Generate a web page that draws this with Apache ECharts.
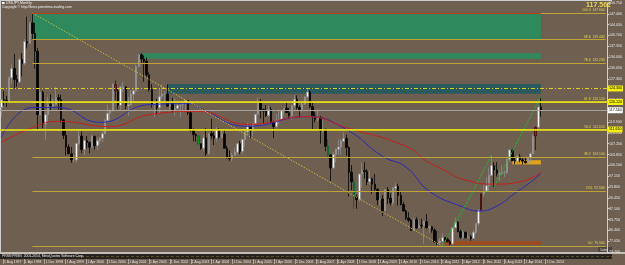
<!DOCTYPE html>
<html>
<head>
<meta charset="utf-8">
<script src="https://cdn.jsdelivr.net/npm/echarts@6/dist/echarts.min.js"></script>
<style>
  html, body { margin: 0; padding: 0; background: #6f5f50; }
  #chart { width: 625px; height: 265px; }
</style>
</head>
<body>
<div id="chart"></div>
<script>
// USDJPY monthly, Aug 1997 .. Dec 2014
const opens = [
  118.4, 120.8, 120.7, 120.4, 127.6,
  130.5, 127.1, 126.3, 133.3, 132.0, 138.8, 138.3, 144.6, 141.3, 135.8, 116.2, 123.1,
  113.3, 116.2, 119.3, 118.9, 119.4, 121.5, 120.8, 114.6, 109.8, 106.2, 104.1, 102.2,
  102.2, 107.3, 109.6, 105.4, 108.2, 107.6, 106.1, 109.5, 106.6, 108.1, 108.9, 110.3,
  114.4, 116.6, 117.4, 125.5, 123.6, 119.1, 124.7, 124.8, 118.9, 119.3, 122.5, 123.6,
  131.0, 134.7, 133.4, 132.7, 128.5, 124.0, 119.5, 119.8, 118.3, 121.8, 122.6, 122.6,
  118.8, 119.9, 117.7, 118.1, 119.1, 119.2, 119.8, 120.6, 116.8, 111.4, 110.0, 109.6,
  107.2, 105.8, 109.0, 104.2, 110.4, 109.6, 108.9, 111.6, 109.2, 110.2, 105.8, 103.1,
  102.6, 103.6, 104.6, 107.2, 104.8, 108.5, 110.9, 112.5, 111.2, 113.4, 116.3, 119.7,
  117.8, 117.3, 115.9, 117.8, 113.8, 112.5, 114.5, 114.6, 117.4, 118.2, 116.8, 115.9,
  119.0, 121.0, 118.4, 117.8, 119.5, 121.7, 123.2, 118.7, 115.8, 114.8, 115.3, 111.2,
  111.7, 106.4, 103.8, 99.7, 103.9, 105.5, 106.2, 108.0, 108.8, 106.0, 98.4, 95.4,
  90.7, 89.9, 97.8, 98.9, 98.6, 95.4, 96.4, 94.7, 93.1, 89.8, 90.1, 86.4,
  93.0, 90.3, 88.9, 93.4, 94.0, 91.2, 88.4, 86.4, 84.2, 83.5, 80.4, 83.7,
  81.1, 82.0, 81.8, 83.1, 81.2, 81.5, 80.5, 76.8, 76.6, 77.0, 78.2, 77.6,
  76.9, 76.2, 81.2, 82.9, 80.0, 78.3, 79.8, 78.1, 78.4, 77.9, 79.8, 82.5,
  86.7, 91.7, 92.6, 94.2, 97.4, 100.5, 99.1, 97.9, 98.1, 98.3, 98.3, 102.4,
  105.3, 102.0, 101.8, 103.2, 102.2, 101.8, 101.3, 102.8, 104.1, 109.6, 112.3, 118.6
]
const closes = [
  120.8, 120.7, 120.4, 127.6, 130.5,
  127.1, 126.3, 133.3, 132.0, 138.8, 138.3, 144.6, 141.3, 135.8, 116.2, 123.1, 113.3,
  116.2, 119.3, 118.9, 119.4, 121.5, 120.8, 114.6, 109.8, 106.2, 104.1, 102.2, 102.2,
  107.3, 109.6, 105.4, 108.2, 107.6, 106.1, 109.5, 106.6, 108.1, 108.9, 110.3, 114.4,
  116.6, 117.4, 125.5, 123.6, 119.1, 124.7, 124.8, 118.9, 119.3, 122.5, 123.6, 131.0,
  134.7, 133.4, 132.7, 128.5, 124.0, 119.5, 119.8, 118.3, 121.8, 122.6, 122.6, 118.8,
  119.9, 117.7, 118.1, 119.1, 119.2, 119.8, 120.6, 116.8, 111.4, 110.0, 109.6, 107.2,
  105.8, 109.0, 104.2, 110.4, 109.6, 108.9, 111.6, 109.2, 110.2, 105.8, 103.1, 102.6,
  103.6, 104.6, 107.2, 104.8, 108.5, 110.9, 112.5, 111.2, 113.4, 116.3, 119.7, 117.8,
  117.3, 115.9, 117.8, 113.8, 112.5, 114.5, 114.6, 117.4, 118.2, 116.8, 115.9, 119.0,
  121.0, 118.4, 117.8, 119.5, 121.7, 123.2, 118.7, 115.8, 114.8, 115.3, 111.2, 111.7,
  106.4, 103.8, 99.7, 103.9, 105.5, 106.2, 108.0, 108.8, 106.0, 98.4, 95.4, 90.7,
  89.9, 97.8, 98.9, 98.6, 95.4, 96.4, 94.7, 93.1, 89.8, 90.1, 86.4, 93.0,
  90.3, 88.9, 93.4, 94.0, 91.2, 88.4, 86.4, 84.2, 83.5, 80.4, 83.7, 81.1,
  82.0, 81.8, 83.1, 81.2, 81.5, 80.5, 76.8, 76.6, 77.0, 78.2, 77.6, 76.9,
  76.2, 81.2, 82.9, 80.0, 78.3, 79.8, 78.1, 78.4, 77.9, 79.8, 82.5, 86.7,
  91.7, 92.6, 94.2, 97.4, 100.5, 99.1, 97.9, 98.1, 98.3, 98.3, 102.4, 105.3,
  102.0, 101.8, 103.2, 102.2, 101.8, 101.3, 102.8, 104.1, 109.6, 112.3, 118.6, 117.562
]
const lows = [
  115.6, 119.0, 118.6, 120.0, 125.8,
  124.4, 124.8, 125.9, 128.0, 131.5, 136.7, 138.1, 139.5, 130.4, 111.6, 115.9, 112.0,
  108.3, 114.0, 117.5, 118.0, 119.0, 117.3, 113.8, 108.6, 103.6, 104.0, 101.3, 101.5,
  101.3, 106.8, 104.3, 103.6, 105.7, 104.3, 105.9, 105.4, 105.3, 107.0, 107.7, 110.1,
  113.9, 114.2, 117.2, 120.8, 117.9, 117.7, 123.2, 117.9, 115.8, 119.1, 119.9, 123.1,
  130.9, 131.9, 126.4, 127.8, 123.3, 118.4, 115.5, 116.3, 116.7, 121.0, 119.9, 118.7,
  117.2, 116.9, 115.9, 117.9, 115.5, 116.9, 117.6, 116.1, 110.9, 107.9, 107.8, 106.8,
  105.3, 104.9, 103.4, 103.8, 108.6, 106.8, 107.8, 108.8, 108.8, 105.8, 102.6, 101.9,
  101.7, 103.5, 103.6, 104.0, 104.1, 106.2, 110.0, 108.9, 109.5, 113.2, 116.3, 115.0,
  113.4, 115.5, 115.4, 113.4, 108.9, 112.0, 113.1, 114.2, 115.9, 116.7, 115.0, 114.7,
  118.4, 117.8, 115.2, 116.9, 119.2, 120.8, 118.2, 111.6, 113.8, 114.0, 107.2, 110.6,
  104.9, 103.1, 95.7, 99.5, 101.4, 103.8, 103.8, 107.8, 103.5, 90.9, 92.8, 87.1,
  87.1, 89.3, 93.5, 96.4, 94.4, 94.5, 91.7, 92.6, 88.2, 88.0, 84.8, 86.4,
  88.5, 88.1, 88.1, 92.6, 88.1, 88.1, 86.2, 83.6, 82.9, 80.2, 80.3, 80.9,
  81.0, 81.0, 76.3, 81.0, 79.6, 79.7, 76.7, 75.9, 75.9, 75.56, 76.6, 76.6,
  75.8, 76.1, 80.9, 79.8, 77.7, 77.7, 77.9, 78.0, 77.2, 77.9, 79.1, 81.7,
  86.5, 90.9, 92.6, 92.5, 97.3, 93.8, 97.0, 95.8, 97.5, 96.9, 97.6, 101.6,
  101.8, 100.8, 100.8, 101.4, 100.8, 101.1, 101.0, 101.6, 104.0, 105.2, 111.9, 115.57
]
const highs = [
  121.0, 123.5, 122.0, 128.0, 131.7,
  135.0, 128.5, 133.9, 135.3, 139.6, 146.5, 145.0, 147.66, 144.6, 136.9, 124.3, 123.6,
  117.0, 121.7, 122.5, 121.3, 124.8, 122.5, 122.4, 115.0, 111.7, 107.0, 106.2, 103.8,
  107.4, 111.7, 111.0, 108.5, 109.6, 108.0, 109.9, 109.6, 109.0, 109.1, 111.3, 114.9,
  119.3, 118.0, 126.0, 126.8, 124.4, 125.2, 126.4, 125.0, 121.7, 123.8, 124.6, 131.7,
  135.0, 135.2, 134.5, 133.9, 129.3, 125.6, 120.1, 121.0, 124.4, 125.6, 123.5, 125.5,
  120.3, 121.4, 121.3, 120.5, 119.5, 120.0, 120.6, 120.6, 117.2, 111.9, 110.5, 109.8,
  107.3, 110.0, 112.1, 110.5, 114.9, 110.9, 112.3, 112.0, 111.4, 111.5, 106.6, 105.1,
  104.4, 106.0, 107.5, 108.1, 108.6, 111.2, 113.7, 112.6, 113.6, 116.4, 121.4, 121.0,
  118.0, 119.1, 119.0, 118.6, 114.3, 116.4, 117.8, 117.4, 118.3, 119.9, 118.3, 119.4,
  122.2, 122.2, 119.0, 120.2, 122.0, 124.1, 123.7, 119.8, 117.0, 117.9, 115.8, 114.7,
  111.8, 108.6, 104.0, 104.7, 105.7, 108.6, 108.6, 110.7, 110.0, 106.4, 100.6, 96.6,
  91.4, 98.1, 101.4, 101.5, 99.3, 98.9, 96.7, 97.8, 93.4, 92.3, 91.3, 93.1,
  93.8, 91.9, 93.8, 95.0, 94.8, 92.3, 89.2, 86.8, 86.0, 84.0, 84.4, 84.5,
  83.7, 84.0, 83.3, 85.5, 82.0, 81.7, 81.0, 80.2, 77.9, 79.5, 78.3, 78.3,
  77.4, 81.3, 84.2, 83.3, 80.7, 80.6, 80.0, 79.7, 78.9, 80.4, 82.8, 86.8,
  91.8, 94.5, 96.7, 99.9, 103.7, 101.5, 101.5, 99.1, 100.6, 99.0, 102.6, 105.4,
  105.4, 102.8, 103.8, 104.1, 102.8, 102.8, 103.1, 104.5, 110.1, 112.5, 118.98, 121.85
]

// candles painted by an indicator
const greenBars = [76, 126, 136]
const redBars = [44, 185, 206]

// moving averages, [month index, price]
const maBlue = [[0, 109.2], [12, 118.4], [22, 118.4], [38, 113.8], [57, 119.3], [72, 119.6], [76, 118.4],
  [95, 112.6], [118, 115.6], [133, 111.6], [147, 103.3], [156, 100.0], [165, 92.5], [178, 87.6],
  [184, 86.4], [191, 87.9], [198, 91.9], [204, 95.3], [208, 98.0]]
const maRed = [[0, 107.6], [12, 112.2], [22, 114.1], [42, 112.5], [57, 116.2], [76, 117.2], [95, 113.2],
  [118, 115.6], [133, 112.2], [156, 106.4], [164, 101.8], [170, 99.3], [178, 96.2], [190, 94.7],
  [201, 95.6], [208, 98.4]]

// fibo from the Aug 1998 high to the Oct 2011 low
const fibLevels = ['100.0', '88.6', '78.6', '61.8', '50.0', '38.2', '23.6', '0.0']
const fibPrices = [147.66, 139.44, 132.23, 120.12, 111.61, 103.10, 92.58, 75.56]
const trendDiag = [[12, 147.66], [170, 75.56]]
const channelA = [[170, 75.56], [180, 89.7], [189, 103.74]]
const channelB = [[190, 93.8], [199, 107.9], [208, 121.85]]

// zones [fromIdx, toIdx, top, bottom]
const zoneGreenBig = [12, 208, 147.66, 139.44]
const zoneGreenSmall = [54, 208, 135.2, 133.5]
const zoneTeal = [64, 208, 125.7, 122.7]
const zoneOrangeLow = [170, 208, 77.1, 75.9]
const zoneOrangeMid = [197, 208, 102.1, 100.8]

const hLevels = [124.30, 120.12, 117.562, 111.61]
const lastPrice = 117.562

const monthNames = ['Jan', 'Feb', 'Mar', 'Apr', 'May', 'Jun', 'Jul', 'Aug', 'Sep', 'Oct', 'Nov', 'Dec']
const totalSlots = 234
let categories = []
for (let i = 0; i < totalSlots; i++) {
  let m = (7 + i) % 12
  let y = 1997 + Math.floor((7 + i) / 12)
  categories.push(monthNames[m] + ' ' + y)
}

let candles = []
for (let i = 0; i < opens.length; i++) {
  let item = { value: [opens[i], closes[i], lows[i], highs[i]] }
  if (greenBars.includes(i)) item.itemStyle = { color: '#0c9a1c', color0: '#0c9a1c', borderColor: '#063', borderColor0: '#063' }
  if (redBars.includes(i)) item.itemStyle = { color: '#9b1d1d', color0: '#9b1d1d', borderColor: '#3a0a0a', borderColor0: '#3a0a0a' }
  candles.push(item)
}

function zone(z, color) {
  return [{ xAxis: z[0], yAxis: z[2], itemStyle: { color: color, opacity: 1 } }, { xAxis: z[1], yAxis: z[3] }]
}

let fibLines = fibPrices.map((p, i) => [
  {
    coord: [12, p],
    lineStyle: { color: '#bda436', width: 1, type: 'solid' },
    label: { show: true, position: 'insideEndTop', formatter: fibLevels[i] + '  ' + p.toFixed(3), color: '#e8d84a', fontSize: 3.4, distance: 1 }
  },
  { coord: [totalSlots - 1, p] }
])

function tag(bg, fg) {
  return { show: true, position: 'end', distance: 1, backgroundColor: bg, color: fg, fontSize: 3.6, padding: [1, 1], formatter: (p) => p.value.toFixed(3) }
}

let hLines = [
  { yAxis: hLevels[0], lineStyle: { color: '#d8d21e', width: 1, type: [4, 2, 1, 2] }, label: tag('#f2ee10', '#000') },
  { yAxis: hLevels[1], lineStyle: { color: '#f0ea10', width: 1.5, type: 'solid' }, label: tag('#f2ee10', '#000') },
  { yAxis: hLevels[2], lineStyle: { color: '#a9a39a', width: 1, type: 'solid' }, label: tag('#ffffff', '#000') },
  { yAxis: hLevels[3], lineStyle: { color: '#f0ea10', width: 1.5, type: 'solid' }, label: tag('#f2ee10', '#000') }
]

let chart = echarts.init(document.getElementById('chart'), null, { renderer: 'canvas' })

let option = {
  backgroundColor: '#6f5f50',
  animation: false,
  textStyle: { fontFamily: 'Liberation Sans' },
  grid: [
    { left: 0, right: 13, top: 3, height: 249 },
    { left: 0, right: 13, top: 254, height: 5 }
  ],
  xAxis: [
    {
      type: 'category', gridIndex: 0, data: categories,
      axisLine: { show: false }, axisTick: { show: false }, axisLabel: { show: false }, splitLine: { show: false }
    },
    {
      type: 'category', gridIndex: 1, data: categories,
      axisLine: { show: false },
      axisTick: { show: true, alignWithLabel: true, length: 5, interval: (i) => i % 8 === 0 && i <= 208, lineStyle: { color: '#d8d8d8', width: 0.6 } },
      axisLabel: {
        show: true, interval: (i) => i % 8 === 0 && i <= 208, align: 'left', margin: 1.5,
        color: '#e4e4e4', fontSize: 3.4, formatter: (v) => ' 1 ' + v
      }
    }
  ],
  yAxis: [
    {
      type: 'value', gridIndex: 0, position: 'right', min: 73.7, max: 150.75, interval: 3.35,
      splitLine: { show: false },
      axisLine: { show: true, lineStyle: { color: '#cfcfcf', width: 1 } },
      axisTick: { show: true, length: 2, lineStyle: { color: '#cfcfcf' } },
      axisLabel: { color: '#e6e6e6', fontSize: 3.6, margin: 2, formatter: (v) => v.toFixed(3) }
    },
    { type: 'value', gridIndex: 1, show: false }
  ],
  graphic: [
    { type: 'line', shape: { x1: 0, y1: 0.5, x2: 612, y2: 0.5 }, style: { stroke: '#cfcfcf', lineWidth: 1 } },
    { type: 'line', shape: { x1: 0.5, y1: 0, x2: 0.5, y2: 252 }, style: { stroke: '#cfcfcf', lineWidth: 1 } },
    { type: 'rect', shape: { x: 0, y: 252, width: 625, height: 2 }, style: { fill: '#c4beb4' } },
    { type: 'rect', shape: { x: 0, y: 254, width: 612, height: 5 }, style: { fill: '#26221e' } },
    { type: 'line', shape: { x1: 76, y1: 256.5, x2: 612, y2: 256.5 }, style: { stroke: '#8a6a30', lineWidth: 0.6, lineDash: [3, 2] } },
    { type: 'text', left: 2, top: 254.3, style: { text: 'PRSN PRSN  2001-2014, MetaQuotes Software Corp.', fill: '#f0f0f0', fontSize: 3.4 } },
    { type: 'rect', shape: { x: 2, y: 2, width: 2.5, height: 2 }, style: { fill: '#ffffff' } },
    { type: 'text', left: 6, top: 1.3, style: { text: 'USDJPY,Monthly', fill: '#f0f0f0', fontSize: 3.4 } },
    { type: 'text', left: 2, top: 5.5, style: { text: 'Copyright © http://forex.primetime-trading.com', fill: '#f0f0f0', fontSize: 3.4 } },
    { type: 'text', right: 14, top: 1.5, style: { text: lastPrice.toFixed(3), fill: '#ead452', fontSize: 7, fontWeight: 'bold' } },
    { type: 'rect', shape: { x: 598, y: 247, width: 14, height: 5 }, style: { fill: '#4a4540' } },
    { type: 'text', left: 600.5, top: 247.6, style: { text: 'Lots', fill: '#e8e8e8', fontSize: 3.6 } }
  ],
  series: [
    {
      name: 'USDJPY', type: 'candlestick', xAxisIndex: 0, yAxisIndex: 0,
      data: candles, barWidth: 2,
      itemStyle: { color: '#f4f4f4', color0: '#050505', borderColor: '#8c8c8c', borderColor0: '#050505', borderWidth: 0.8 },
      markArea: {
        silent: true,
        data: [
          zone(zoneGreenBig, '#2e8a5c'),
          zone(zoneGreenSmall, '#2e8a5c'),
          zone(zoneTeal, '#2b5a5e'),
          zone(zoneOrangeLow, '#9a4c1e'),
          zone(zoneOrangeMid, '#e2a21a')
        ]
      },
      markLine: {
        silent: true, symbol: 'none',
        data: fibLines.concat(hLines).concat([
          [{ coord: [12, 147.66], lineStyle: { color: '#c03a22', width: 1, type: 'solid' }, label: { show: false } }, { coord: [208, 147.66] }]
        ])
      }
    },
    {
      name: 'MA fast', type: 'line', data: maBlue, smooth: true, symbol: 'none',
      lineStyle: { color: '#2a2ab8', width: 1 }, z: 3
    },
    {
      name: 'MA slow', type: 'line', data: maRed, smooth: true, symbol: 'none',
      lineStyle: { color: '#c42020', width: 1 }, z: 3
    },
    {
      name: 'trend', type: 'line', data: trendDiag, symbol: 'none',
      lineStyle: { color: '#c9b444', width: 1, type: [1.5, 1.5] }, z: 3
    },
    {
      name: 'channel A', type: 'line', data: channelA, symbol: 'rect', symbolSize: 2.5,
      itemStyle: { color: '#2cc83a' }, lineStyle: { color: '#24b030', width: 1, type: [3, 1] }, z: 4
    },
    {
      name: 'channel B', type: 'line', data: channelB, symbol: 'rect', symbolSize: 2.5,
      itemStyle: { color: '#2cc83a' }, lineStyle: { color: '#24b030', width: 1, type: [3, 1] }, z: 4
    }
  ]
}

chart.setOption(option)
</script>
</body>
</html>
